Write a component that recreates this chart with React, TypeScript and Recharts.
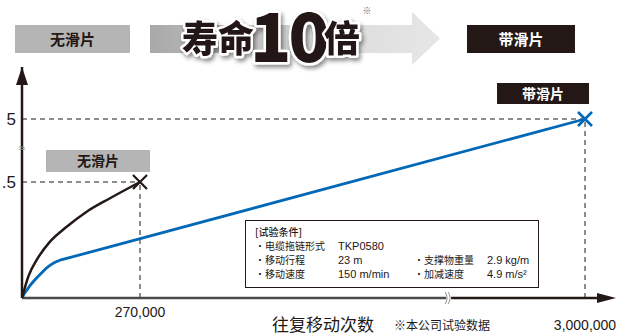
import React from 'react';
import { LineChart, Line, XAxis, YAxis, ReferenceLine, ReferenceDot } from 'recharts';

// ---- data (cycles = reciprocating moves, value = life index) ----
const cyclesNoSlider = [0, 14400, 33600, 64100, 102300, 148000, 201400, 270000];
const valuesNoSlider = [0, 0.092, 0.164, 0.243, 0.307, 0.372, 0.43, 0.5];
const cyclesSlider = [0, 4576, 11440, 18300, 25170, 34320, 45760, 57200, 66360, 75510, 86950, 3000000];
const valuesSlider = [0, 0.0172, 0.0345, 0.0539, 0.069, 0.0884, 0.11, 0.131, 0.144, 0.1539, 0.1629, 5];
const xTickValues = [270000, 3000000];
const xTickLabels = ['270,000', '3,000,000'];
const yTickValues = [0.5, 5];
const yTickLabels = ['.5', '5'];
const X_BREAK = 975000;
const Y_BREAK = 2.9;
const X_MAX_UNITS = 594;
const Y_MAX_UNITS = 231;

const conditions = [
  ['・电缆拖链形式', 'TKP0580', '', ''],
  ['・移动行程', '23 m', '・支撑物重量', '2.9 kg/m'],
  ['・移动速度', '150 m/min', '・加减速度', '4.9 m/s²'],
];

// broken-axis transforms (axis units)
const tx = (c: number) =>
  c <= X_BREAK ? (c * 118) / 270000 : (X_BREAK * 118) / 270000 + ((c - X_BREAK) * (563 - (X_BREAK * 118) / 270000)) / (3000000 - X_BREAK);
const ty = (v: number) => (v <= 0.5 ? v * 232 : 116 + ((v - 0.5) * 63) / 4.5);

const noSliderData = cyclesNoSlider.map((c, i) => ({ x: tx(c), y: ty(valuesNoSlider[i]) }));
const sliderData = cyclesSlider.map((c, i) => ({ x: tx(c), y: ty(valuesSlider[i]) }));

const BLACK = '#231815';
const BLUE = '#0068b7';
const CJK = '"Noto Sans CJK SC", "Noto Sans", sans-serif';
const LATIN = '"Liberation Sans", Arial, sans-serif';

const endCross = (color: string, n: number, w: number) => (props: any) => {
  const { cx, cy, index } = props;
  if (index !== n - 1) return <g key={`d${index}`} />;
  const s = 7;
  return (
    <path
      key={`d${index}`}
      d={`M${cx - s},${cy - s}L${cx + s},${cy + s}M${cx - s},${cy + s}L${cx + s},${cy - s}`}
      stroke={color}
      strokeWidth={w}
      fill="none"
    />
  );
};

const labelBox = (text: string, fill: string, color: string, dx0: number, dy0: number, w: number, h: number) => (props: any) => {
  const { cx, cy } = props;
  return (
    <g>
      <rect x={cx + dx0} y={cy + dy0} width={w} height={h} fill={fill} />
      <text
        x={cx + dx0 + w / 2}
        y={cy + dy0 + h / 2 + 5}
        textAnchor="middle"
        fontFamily={CJK}
        fontWeight={700}
        fontSize={14}
        fill={color}
      >
        {text}
      </text>
    </g>
  );
};

const XTick = (props: any) => {
  const { x, index } = props;
  const baselines = [317, 330];
  return (
    <text x={x} y={baselines[index]} textAnchor="middle" fontFamily={LATIN} fontSize={14} fill={BLACK}>
      {xTickLabels[index]}
    </text>
  );
};

const YTick = (props: any) => {
  const { y, index } = props;
  return (
    <text x={16} y={y + 6} textAnchor="end" fontFamily={LATIN} fontSize={17} fill={BLACK}>
      {yTickLabels[index]}
    </text>
  );
};

const xArrow = (props: any) => {
  const { cx, cy } = props;
  return <path d={`M${cx},${cy}L${cx - 19},${cy - 5}L${cx - 19},${cy + 5}Z`} fill={BLACK} />;
};
const yArrow = (props: any) => {
  const { cx, cy } = props;
  return <path d={`M${cx},${cy}L${cx - 6},${cy + 18}L${cx + 6},${cy + 18}Z`} fill={BLACK} />;
};
const xBreakMark = (props: any) => {
  const { cx, cy } = props;
  return (
    <g>
      <rect x={cx - 2} y={cy - 3} width={5} height={6} fill="#fff" />
      <path d={`M${cx - 3},${cy - 6}Q${cx + 1},${cy} ${cx - 3},${cy + 6}M${cx},${cy - 6}Q${cx + 4},${cy} ${cx},${cy + 6}`} stroke="#777" strokeWidth={0.8} fill="none" />
    </g>
  );
};
const yBreakMark = (props: any) => {
  const { cx, cy } = props;
  return (
    <text x={cx} y={cy + 4} textAnchor="middle" fontFamily={LATIN} fontSize={12} fill="#888">
      ≈
    </text>
  );
};

export default function App() {
  const dash = '5 4';
  return (
    <div style={{ position: 'absolute', left: 0, top: 0, width: 622, height: 335, background: '#fff' }}>
      <LineChart width={622} height={335} margin={{ top: 67, right: 6, bottom: 0, left: 0 }}>
        <XAxis
          type="number"
          dataKey="x"
          domain={[0, X_MAX_UNITS]}
          ticks={xTickValues.map(tx)}
          tick={<XTick />}
          tickLine={false}
          axisLine={false}
          height={37}
          allowDataOverflow
          interval={0}
        />
        <YAxis
          type="number"
          dataKey="y"
          domain={[0, Y_MAX_UNITS]}
          ticks={yTickValues.map(ty)}
          tick={<YTick />}
          tickLine={false}
          axisLine={{ stroke: BLACK, strokeWidth: 2.5 }}
          width={22}
          allowDataOverflow
          interval={0}
        />
        {/* guide lines */}
        <ReferenceLine segment={[{ x: 0, y: ty(0.5) }, { x: tx(270000), y: ty(0.5) }]} stroke={BLACK} strokeDasharray={dash} strokeWidth={1} />
        <ReferenceLine segment={[{ x: tx(270000), y: 0 }, { x: tx(270000), y: ty(0.5) }]} stroke={BLACK} strokeDasharray={dash} strokeWidth={1} />
        <ReferenceLine segment={[{ x: 0, y: ty(5) }, { x: tx(3000000), y: ty(5) }]} stroke={BLACK} strokeDasharray={dash} strokeWidth={1} />
        <ReferenceLine segment={[{ x: tx(3000000), y: 0 }, { x: tx(3000000), y: ty(5) }]} stroke={BLACK} strokeDasharray={dash} strokeWidth={1} />
        {/* x axis with break */}
        <ReferenceLine segment={[{ x: 0, y: 0 }, { x: tx(X_BREAK), y: 0 }]} stroke="#4a4a4a" strokeWidth={2.5} />
        <ReferenceLine segment={[{ x: tx(X_BREAK), y: 0 }, { x: X_MAX_UNITS - 10, y: 0 }]} stroke={BLACK} strokeWidth={2.5} />
        <ReferenceDot x={tx(X_BREAK)} y={0} shape={xBreakMark} ifOverflow="visible" />
        <ReferenceDot x={X_MAX_UNITS} y={0} shape={xArrow} ifOverflow="visible" />
        <ReferenceDot x={0} y={Y_MAX_UNITS} shape={yArrow} ifOverflow="visible" />
        <ReferenceDot x={0} y={ty(Y_BREAK)} shape={yBreakMark} ifOverflow="visible" />
        <Line
          data={sliderData}
          dataKey="y"
          type="linear"
          stroke={BLUE}
          strokeWidth={2.8}
          strokeLinejoin="round"
          dot={endCross(BLUE, sliderData.length, 2.6)}
          activeDot={false}
          isAnimationActive={false}
        />
        <Line
          data={noSliderData}
          dataKey="y"
          type="monotoneX"
          stroke={BLACK}
          strokeWidth={2.5}
          dot={endCross(BLACK, noSliderData.length, 2.2)}
          activeDot={false}
          isAnimationActive={false}
        />
        <ReferenceDot x={tx(270000)} y={ty(0.5)} shape={labelBox('无滑片', '#b5b5b5', BLACK, -94, -32, 104, 22)} ifOverflow="visible" />
        <ReferenceDot x={tx(3000000)} y={ty(5)} shape={labelBox('带滑片', BLACK, '#fff', -88, -36, 92, 21)} ifOverflow="visible" />
      </LineChart>

      <svg width={622} height={335} style={{ position: 'absolute', left: 0, top: 0, pointerEvents: 'none' }}>
        <defs>
          <linearGradient id="arrowGrad" x1="150" y1="0" x2="440" y2="0" gradientUnits="userSpaceOnUse">
            <stop offset="0" stopColor="#a9a9a9" />
            <stop offset="0.7" stopColor="#dedede" />
            <stop offset="1" stopColor="#e6e6e6" />
          </linearGradient>
          <filter id="sh" x="-10%" y="-20%" width="130%" height="160%">
            <feDropShadow dx="2" dy="3" stdDeviation="2" floodColor="#000" floodOpacity="0.45" />
          </filter>
        </defs>
        {/* top banner */}
        <rect x={15} y={25} width={115} height={28} fill="#b5b5b5" />
        <text x={72.5} y={45} textAnchor="middle" fontFamily={CJK} fontWeight={700} fontSize={15} fill={BLACK}>无滑片</text>
        <path d="M150,25L412,25L412,12L440,38.5L412,65L412,53L150,53Z" fill="url(#arrowGrad)" />
        <g filter="url(#sh)" stroke="#fff" strokeWidth={5} paintOrder="stroke" strokeLinejoin="round" fill={BLACK}>
          <text x={182} y={52} fontFamily={CJK} fontWeight={900} fontSize={36}>寿命</text>
          <text x={250} y={62} fontFamily={CJK} fontWeight={900} fontSize={68} letterSpacing={-3}>10</text>
          <text x={324} y={52} fontFamily={CJK} fontWeight={900} fontSize={36}>倍</text>
        </g>
        <text x={367} y={14} textAnchor="middle" fontFamily={CJK} fontSize={9} fill="#666">※</text>
        <rect x={467} y={25} width={108} height={28} fill={BLACK} />
        <text x={521} y={45} textAnchor="middle" fontFamily={CJK} fontWeight={700} fontSize={15} fill="#fff">带滑片</text>

        {/* test condition box */}
        <rect x={245.5} y={220.5} width={293} height={67} fill="#fff" stroke={BLACK} strokeWidth={1} />
        <text x={255} y={236} fontFamily={CJK} fontSize={10} fontWeight={500} fill={BLACK}>[试验条件]</text>
        {conditions.map((row, i) => (
          <g key={i} fill={BLACK}>
            <text x={255} y={250 + i * 14} fontFamily={CJK} fontSize={10}>{row[0]}</text>
            <text x={338} y={250 + i * 14} fontFamily={LATIN} fontSize={11}>{row[1]}</text>
            <text x={414} y={250 + i * 14} fontFamily={CJK} fontSize={10}>{row[2]}</text>
            <text x={487} y={250 + i * 14} fontFamily={LATIN} fontSize={11}>{row[3]}</text>
          </g>
        ))}

        {/* axis caption */}
        <text x={272} y={331} fontFamily={CJK} fontSize={17} fill={BLACK}>往复移动次数</text>
        <text x={394} y={330} fontFamily={CJK} fontSize={12} fill={BLACK}>※本公司试验数据</text>
      </svg>
    </div>
  );
}
